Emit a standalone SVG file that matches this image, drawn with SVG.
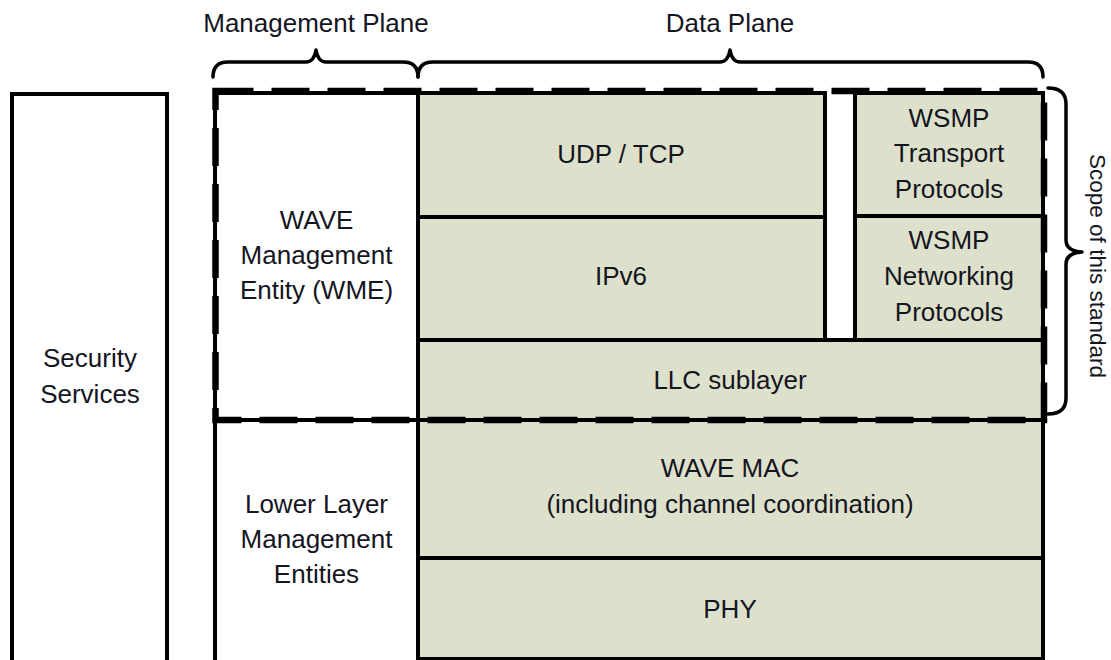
<svg xmlns="http://www.w3.org/2000/svg" width="1111" height="660" viewBox="0 0 1111 660">
  <style>
    .lbl { font-family: "Liberation Sans", Arial, sans-serif; font-size: 26px; fill: #15151f; text-anchor: middle; }
    .box { stroke: #000; stroke-width: 4; }
    .white { fill: #ffffff; }
    .green { fill: #dde1cb; }
    .brace { fill: none; stroke: #000; stroke-width: 3.5; stroke-linejoin: round; stroke-linecap: round; }
    .frame { fill: none; stroke: #000; stroke-width: 6.5; stroke-dasharray: 38 18; }
  </style>
  <rect width="1111" height="660" fill="#ffffff"/>

  <!-- plane labels and their braces -->
  <g id="management-plane">
    <text class="lbl" x="316" y="32">Management Plane</text>
  </g>
  <g id="data-plane">
    <text class="lbl" x="730" y="32">Data Plane</text>
  </g>

  <!-- security services column -->
  <g id="security-services">
    <rect class="box white" x="12" y="94" width="155" height="600"/>
    <text class="lbl" x="90" y="367">Security</text>
    <text class="lbl" x="90" y="403">Services</text>
  </g>

  <!-- management plane boxes -->
  <g id="wme">
    <rect class="box white" x="215" y="93" width="203" height="327"/>
    <text class="lbl" x="316.5" y="229">WAVE</text>
    <text class="lbl" x="316.5" y="264">Management</text>
    <text class="lbl" x="316.5" y="299">Entity (WME)</text>
  </g>
  <g id="lower-layer-management">
    <rect class="box white" x="215" y="420" width="203" height="260"/>
    <text class="lbl" x="316.5" y="513">Lower Layer</text>
    <text class="lbl" x="316.5" y="548">Management</text>
    <text class="lbl" x="316.5" y="583">Entities</text>
  </g>

  <!-- data plane stack -->
  <g id="udp-tcp">
    <rect class="box green" x="418" y="93" width="407" height="124"/>
    <text class="lbl" x="621" y="163">UDP / TCP</text>
  </g>
  <g id="ipv6">
    <rect class="box green" x="418" y="217" width="407" height="123"/>
    <text class="lbl" x="621" y="285">IPv6</text>
  </g>
  <g id="wsmp-transport">
    <rect class="box green" x="855" y="93" width="188" height="123"/>
    <text class="lbl" x="949" y="127">WSMP</text>
    <text class="lbl" x="949" y="162">Transport</text>
    <text class="lbl" x="949" y="198">Protocols</text>
  </g>
  <g id="wsmp-networking">
    <rect class="box green" x="855" y="216" width="188" height="124"/>
    <text class="lbl" x="949" y="249">WSMP</text>
    <text class="lbl" x="949" y="285">Networking</text>
    <text class="lbl" x="949" y="321">Protocols</text>
  </g>
  <g id="llc">
    <rect class="box green" x="418" y="340" width="625" height="80"/>
    <text class="lbl" x="730" y="389">LLC sublayer</text>
  </g>
  <g id="wave-mac">
    <rect class="box green" x="418" y="420" width="625" height="138"/>
    <text class="lbl" x="730" y="477">WAVE MAC</text>
    <text class="lbl" x="730" y="513">(including channel coordination)</text>
  </g>
  <g id="phy">
    <rect class="box green" x="418" y="558" width="625" height="101"/>
    <text class="lbl" x="730" y="618">PHY</text>
  </g>

  <!-- scope boundary, braces and scope label -->
  <g id="connectors">
    <rect class="frame" x="215.5" y="91" width="828.5" height="329"/>
    <path class="brace" d="M213,77 Q213,62 228,62 L306,62 Q314,62 316,50 Q318,62 326,62 L403,62 Q418,62 418,77"/>
    <path class="brace" d="M418,77 Q418,62 433,62 L720,62 Q728,62 730,50 Q732,62 740,62 L1028,62 Q1043,62 1043,77"/>
    <path class="brace" d="M1048,88 Q1066,88 1066,104 L1066,240 Q1066,251 1082,252 Q1066,253 1066,264 L1066,398 Q1066,414 1048,414"/>
  </g>
  <g id="scope-label">
    <text class="lbl" transform="translate(1090,266) rotate(90)" style="font-size:22.5px">Scope of this standard</text>
  </g>
</svg>
